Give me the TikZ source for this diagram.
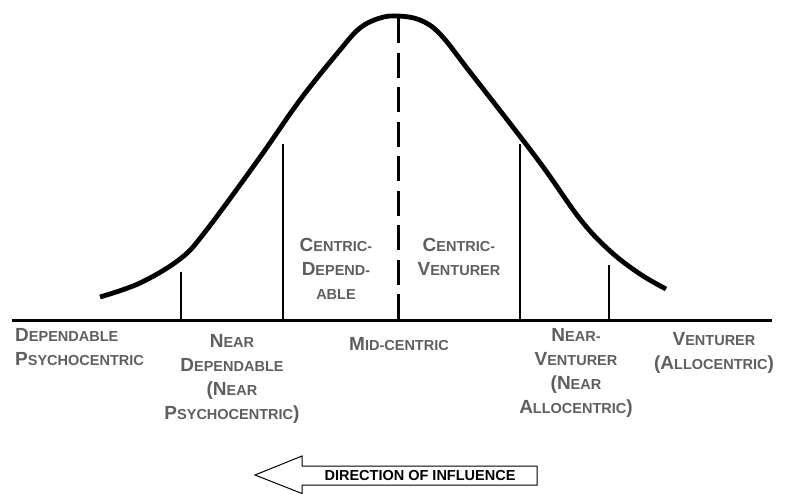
\documentclass[tikz,border=0pt]{standalone}
\usepackage{fontspec}
\setmainfont{Liberation Sans}

\definecolor{labelgray}{RGB}{95,95,95}

% small capitals made by hand, as in the scan
\newcommand{\smc}[1]{{\fontsize{14.5}{24}\selectfont #1}}

\tikzset{
	curve/.style={line width=4.8pt},
	axis/.style={line width=3pt},
	divider/.style={line width=1.3pt},
	midline/.style={line width=3pt, dash pattern=on 25pt off 9.5pt},
	group/.style={text=labelgray, inner sep=0, align=center,
	              font=\fontsize{19}{24}\selectfont\bfseries},
}

\begin{document}
\begin{tikzpicture}[x=1pt, y=-1pt]
	\useasboundingbox (0, 0) rectangle (795, 493);
	
	% Bell curve
	\draw [curve] plot [smooth, tension=0.6] coordinates {
		(100, 297) (140, 283) (180, 259) (205, 232) (258, 160)
		(300, 100) (340, 50) (360, 28) (380, 18) (398, 16)
		(420, 20) (440, 34) (470, 72) (538, 160) (580, 219)
		(610, 251) (640, 274) (666, 289)
	};
	
	% Base line and divisions
	\coordinate (axisleft) at (12, 320);
	\coordinate (axisright) at (772, 320);
	\draw [axis] (axisleft) -- (axisright);
	
	\foreach \x/\top in {181/272, 283/144, 520/144, 609/265}{
		\draw [divider] (\x, \top) -- (\x, 320);
	}
	
	\coordinate (peak) at (398, 18);
	\draw [midline] (peak) -- (398, 320);
	
	% Groups under the line
	\node (dependable) [group, anchor=north west, align=left] at (15, 328)
	      {D\smc{EPENDABLE}\\P\smc{SYCHOCENTRIC}};
	\node (neardependable) [group, anchor=north] at (232, 334)
	      {N\smc{EAR}\\D\smc{EPENDABLE}\\(N\smc{EAR}\\P\smc{SYCHOCENTRIC})};
	\node (midcentric) [group, anchor=north] at (399, 337)
	      {M\smc{ID-CENTRIC}};
	\node (nearventurer) [group, anchor=north] at (576, 328)
	      {N\smc{EAR-}\\V\smc{ENTURER}\\(N\smc{EAR}\\A\smc{LLOCENTRIC})};
	\node (venturer) [group, anchor=north] at (714, 332)
	      {V\smc{ENTURER}\\(A\smc{LLOCENTRIC})};
	
	% Groups under the curve
	\node (centricdependable) [group, anchor=north] at (336, 238)
	      {C\smc{ENTRIC-}\\D\smc{EPEND-}\\\smc{ABLE}};
	\node (centricventurer) [group, anchor=north] at (459, 238)
	      {C\smc{ENTRIC-}\\V\smc{ENTURER}};
	
	% Direction arrow
	\draw [line width=1pt, fill=white]
	      (255, 475) -- (302, 456) -- (302, 466) -- (537, 466)
	      -- (537, 485) -- (302, 485) -- (302, 493.5) -- cycle;
	\node (direction) [inner sep=0, font=\fontsize{14.5}{16}\selectfont\bfseries]
	      at (420, 475.5) {DIRECTION OF INFLUENCE};
	
\end{tikzpicture}
\end{document}
